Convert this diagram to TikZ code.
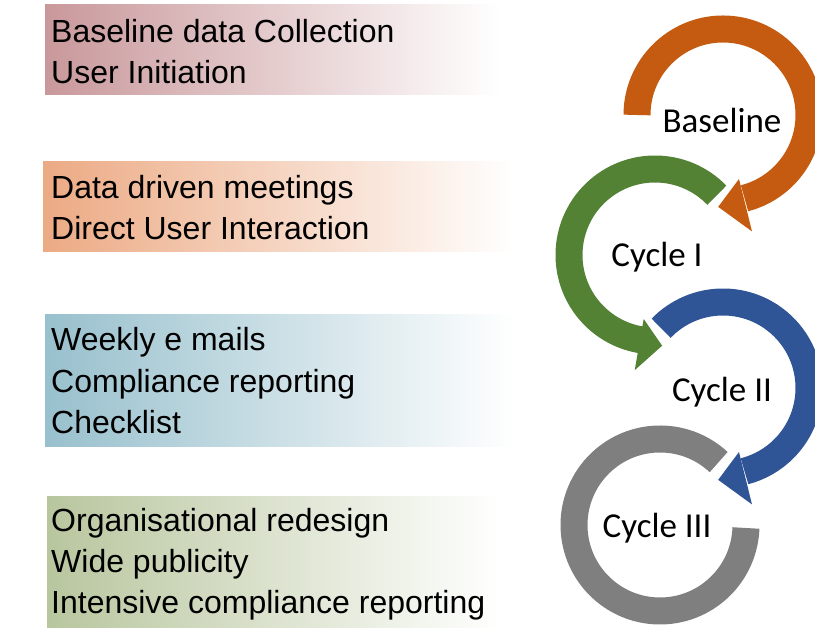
\documentclass[tikz,border=0pt]{standalone}
\usepackage{fontspec}
\setmainfont{Liberation Sans}
\newfontfamily\carlito{Carlito}
\definecolor{ROSE_Color}{RGB}{201, 152, 155}
\definecolor{PEACH_Color}{RGB}{236, 170, 132}
\definecolor{TEAL_Color}{RGB}{152, 192, 205}
\definecolor{OLIVE_Color}{RGB}{184, 198, 158}
\definecolor{ORANGE_Color}{RGB}{197, 90, 17}
\definecolor{GREEN_Color}{RGB}{84, 130, 53}
\definecolor{BLUE_Color}{RGB}{47, 85, 151}
\definecolor{GREY_Color}{RGB}{127, 127, 127}
\usetikzlibrary{positioning, calc}
\tikzset{
    boxtext/.style={anchor=base west, inner sep=0, font=\fontsize{32}{40}\selectfont}, % left column lines
    cyclelabel/.style={inner sep=0, font=\carlito\fontsize{35}{42}\selectfont}, % names inside the rings
    band/.style={line width=27pt}, % thickness of the rings
    }

\begin{document}
\begin{tikzpicture}
    [x=1pt, y=1pt%, image is 815 x 628
    ]
\useasboundingbox (0,0) rectangle (815,628);

% shaded boxes on the left
\shade[left color=ROSE_Color, middle color=ROSE_Color!35, right color=white] (45,533) rectangle (500,623);
\shade[left color=PEACH_Color, middle color=PEACH_Color!35, right color=white] (43,376) rectangle (515,466);
\shade[left color=TEAL_Color, middle color=TEAL_Color!35, right color=white] (45,181) rectangle (515,313);
\shade[left color=OLIVE_Color, middle color=OLIVE_Color!35, right color=white] (47,0) rectangle (500,131);

\node[boxtext] (b1) at (51,585) {Baseline data Collection};
\node[boxtext] (b2) at (51,544) {User Initiation};
\node[boxtext] (c1a) at (51,429) {Data driven meetings};
\node[boxtext] (c1b) at (51,388) {Direct User Interaction};
\node[boxtext] (c2a) at (51,277) {Weekly e mails};
\node[boxtext] (c2b) at (51,235) {Compliance reporting};
\node[boxtext] (c2c) at (51,194) {Checklist};
\node[boxtext] (c3a) at (51,96) {Organisational redesign};
\node[boxtext] (c3b) at (51,55) {Wide publicity};
\node[boxtext] (c3c) at (51,14) {Intensive compliance reporting};

% ring centres
\coordinate (oc) at (723,513);
\coordinate (gc) at (655,373);
\coordinate (bc) at (723,240);
\coordinate (yc) at (660,103);

% Cycle III
\draw[band, GREY_Color] ([shift={(47:86)}]yc) arc[start angle=47, end angle=358, radius=86];

% Cycle II
\draw[band, BLUE_Color] ([shift={(136:86)}]bc) arc[start angle=136, end angle=-75.5, radius=86];
\fill[BLUE_Color] ([shift={(-76:66)}]bc) -- ([shift={(-93:92)}]bc) -- ([shift={(-76:120)}]bc) -- cycle;

% Cycle I
\draw[band, GREEN_Color] ([shift={(44:86)}]gc) arc[start angle=44, end angle=260.5, radius=86];
\fill[GREEN_Color] ([shift={(260:65)}]gc) -- ([shift={(274.5:91)}]gc) -- ([shift={(260:117)}]gc) -- cycle;

% Baseline
\draw[band, ORANGE_Color] ([shift={(180:86)}]oc) arc[start angle=180, end angle=-75.5, radius=86];
\fill[ORANGE_Color] ([shift={(-76:66)}]oc) -- ([shift={(-93:92)}]oc) -- ([shift={(-76:120)}]oc) -- cycle;

\node[cyclelabel] (base) at (722,508) {Baseline};
\node[cyclelabel] (cyc1) at (657,371) {Cycle I};
\node[cyclelabel] (cyc2) at (722,236) {Cycle II};
\node[cyclelabel] (cyc3) at (657,100) {Cycle III};
\end{tikzpicture}
\end{document}
